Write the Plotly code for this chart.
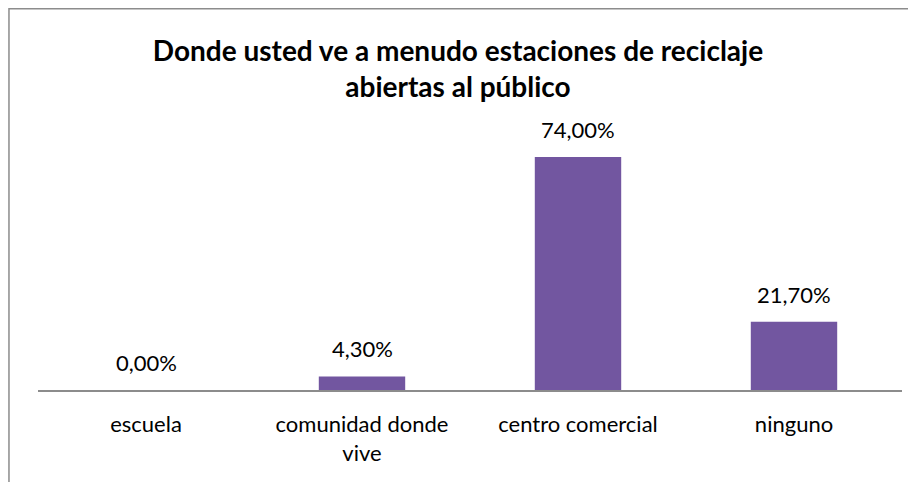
import plotly.graph_objects as go

categories = ["escuela", "comunidad donde<br>vive", "centro comercial", "ninguno"]
values = [0.0, 4.3, 74.0, 21.7]
labels = ["0,00%", "4,30%", "74,00%", "21,70%"]
title_text = "<b>Donde usted ve a menudo estaciones de reciclaje<br>abiertas al público</b>"

FONT = "Lato"

fig = go.Figure()
fig.add_trace(go.Bar(
    x=categories, y=values, width=0.4,
    marker=dict(color="#7256A0", line=dict(width=0)),
    hoverinfo="skip",
))

for c, v, t in zip(categories, values, labels):
    fig.add_annotation(x=c, y=v, text=t, showarrow=False, yanchor="bottom",
                       yshift=12, font=dict(family=FONT, size=22, color="#000000"))

fig.update_layout(
    width=908, height=474,
    margin=dict(l=30, r=14, t=130, b=92),
    paper_bgcolor="white", plot_bgcolor="white",
    showlegend=False,
    title=dict(text=title_text, x=450 / 908, xanchor="center", y=1 - 53 / 474, yanchor="middle",
               font=dict(family=FONT, size=28, color="#000000")),
    xaxis=dict(showline=True, linecolor="#8C8C8C", linewidth=2, ticks="",
               showgrid=False, tickfont=dict(family=FONT, size=22, color="#000000"),
               ticklabelstandoff=14),
    yaxis=dict(range=[0, 80], visible=False, showgrid=False, zeroline=False),
    shapes=[dict(type="rect", xref="paper", yref="paper",
                 x0=-0.0336, x1=1.1, y0=-0.7, y1=1.513,
                 line=dict(color="#8C8C8C", width=1.5), fillcolor="rgba(0,0,0,0)", layer="below")],
)

fig.write_html("out.html")
